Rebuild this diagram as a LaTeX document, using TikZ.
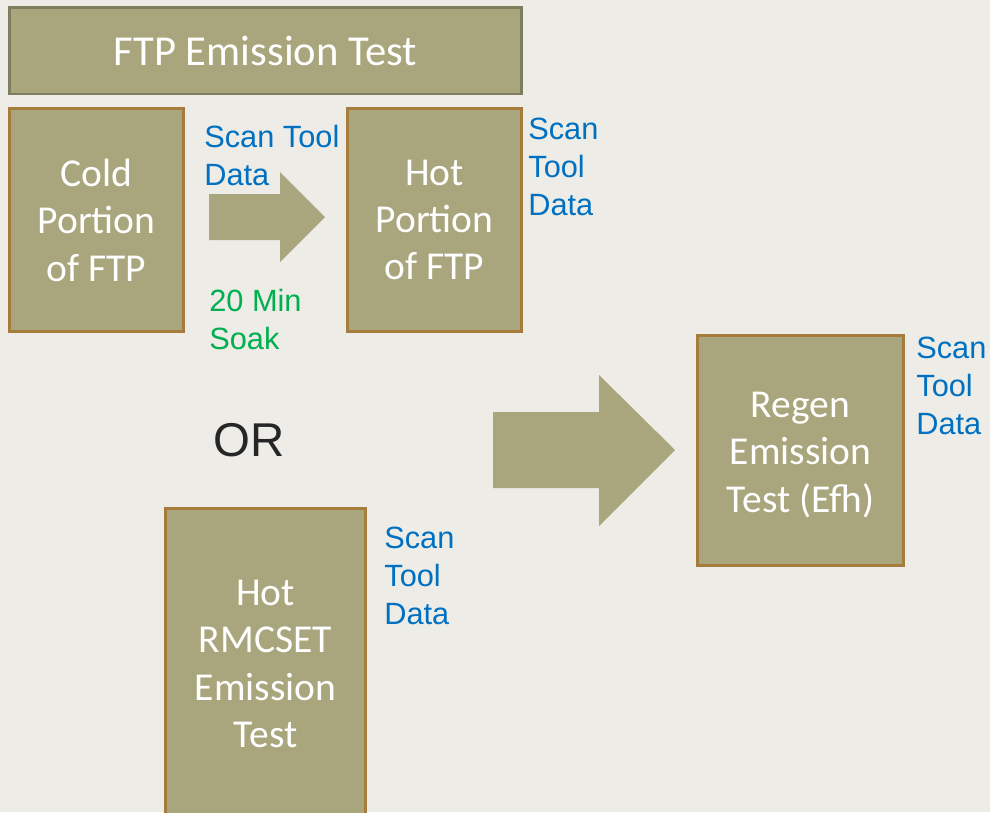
\documentclass[tikz,border=0pt]{standalone}
\usepackage{fontspec}
\usepackage{xcolor}
\usepackage{tikz}
\usetikzlibrary{positioning}
\newfontfamily\boxfont{Carlito}
\newfontfamily\notefont{Liberation Sans}

\definecolor{paper}{HTML}{EDECE6}
\definecolor{olivefill}{HTML}{A9A57C}
\definecolor{titleline}{HTML}{7E7D5D}
\definecolor{brownline}{HTML}{A67C3D}
\definecolor{scanblue}{HTML}{0070C0}
\definecolor{soakgreen}{HTML}{00B050}

\tikzset{
    testbox/.style={draw=brownline, line width=1.7pt, fill=olivefill, rectangle,
        text=white, align=center, font=\boxfont\fontsize{22.5}{27}\selectfont},
    boxtext/.style={text=white, align=center, font=\boxfont\fontsize{22.5}{27}\selectfont},
    scannote/.style={anchor=north west, inner sep=0pt, align=left, text=scanblue,
        font=\notefont\fontsize{17.5}{21.5}\selectfont},
    blockarrow/.style={fill=olivefill}
}

\begin{document}
\begin{tikzpicture}[x=0.02cm, y=-0.02cm]
        % Background
        \fill[paper] (0,0) rectangle (990,812);
        \useasboundingbox (0,0) rectangle (990,812);
        \clip (0,0) rectangle (990,812);

        % Nodes
        \node (ftp) [testbox, draw=titleline, minimum width=10.26cm, minimum height=1.74cm,
            font=\boxfont\fontsize{24.3}{29}\selectfont] at (265.5,50.5) {FTP Emission Test};

        \node (cold) [testbox, minimum width=3.5cm, minimum height=4.48cm] at (96.5,220) {Cold\\Portion\\of FTP};
        \node (hot) [testbox, minimum width=3.5cm, minimum height=4.48cm] at (434.5,220) {Hot\\Portion\\of FTP};
        \node (regen) [testbox, minimum width=4.14cm, minimum height=4.62cm] at (800.5,450.5) {};
        \node (regentext) [boxtext, yshift=-0.09cm] at (regen.center) {Regen\\Emission\\Test (Efh)};
        \node (rmcset) [testbox, minimum width=4.02cm, minimum height=6.24cm] at (265.5,664) {Hot\\RMCSET\\Emission\\Test};

        % Notes
        \node (scan1) [scannote] at (204,125) {Scan Tool\\Data};
        \node (soak) [scannote, text=soakgreen] at (209,289) {20 Min\\Soak};
        \node (scan2) [scannote] at (528,118) {Scan\\Tool\\Data};
        \node (scan3) [scannote] at (916,337) {Scan\\Tool\\Data};
        \node (scan4) [scannote] at (384,527) {Scan\\Tool\\Data};
        \node (or) [text=black!85, font=\notefont\fontsize{27}{32}\selectfont] at (249,440) {OR};

        % Arrows
        \fill[blockarrow] (209,194) -- (280,194) -- (280,172) -- (325,217)
            -- (280,262) -- (280,240) -- (209,240) -- cycle;
        \fill[blockarrow] (493,412) -- (599,412) -- (599,375) -- (675,450)
            -- (599,526) -- (599,488) -- (493,488) -- cycle;
    \end{tikzpicture}
\end{document}
